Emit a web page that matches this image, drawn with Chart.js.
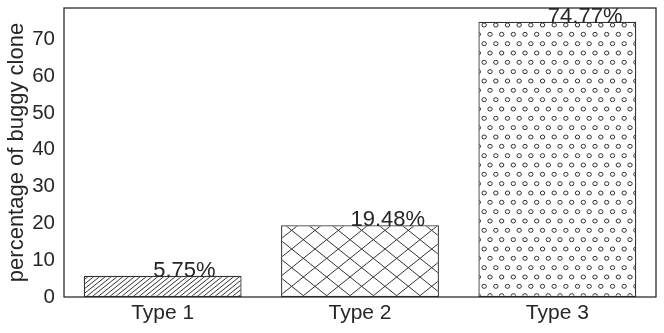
<!DOCTYPE html>
<html>
<head>
<meta charset="utf-8">
<script src="https://cdn.jsdelivr.net/npm/chart.js@4.4.1/dist/chart.umd.min.js"></script>
<style>
  html, body { margin: 0; padding: 0; background: #fff; }
  #wrap { width: 664px; height: 333px; }
</style>
</head>
<body>
<div id="wrap"><canvas id="main-chart" width="664" height="333"></canvas></div>
<script>
var categories = ["Type 1", "Type 2", "Type 3"];
var buggyPct = [5.75, 19.48, 74.77];
var yTicks = [0, 10, 20, 30, 40, 50, 60, 70];
var hatches = ["////", "x", "oo"];

var ink = '#262626';
var edge = '#333333';
var fontFam = '"Liberation Sans", Arial, sans-serif';

// matplotlib-like hatch tile (unit cell stretched a bit vertically like the source image)
function makeHatch(kind) {
  var W = 140, H = 112;
  var c = document.createElement('canvas');
  c.width = W; c.height = H;
  var g = c.getContext('2d');
  g.fillStyle = '#fff';
  g.fillRect(0, 0, W, H);
  g.strokeStyle = edge;
  g.lineWidth = 1;
  function lines(n, dir) {
    for (var k = -n; k <= n; k++) {
      var x = k * W / n;
      g.beginPath();
      if (dir > 0) { g.moveTo(x, H); g.lineTo(x + W, 0); }
      else { g.moveTo(x, 0); g.lineTo(x + W, H); }
      g.stroke();
    }
  }
  if (kind === '////') lines(24, 1);
  if (kind === 'x') { lines(6, 1); lines(6, -1); }
  if (kind === 'oo') {
    var n = 12, off = 1 / n;
    for (var i = 0; i <= n; i++) {
      var cols = [];
      if (i % 2 === 0) { for (var j = 0; j <= n; j++) cols.push(j * off); }
      else { for (var j = 0; j < n; j++) cols.push(off / 2 + j * off); }
      cols.forEach(function (u) {
        g.beginPath();
        g.ellipse(u * W, H - i * off * H, 2.2, 2.0, 0, 0, Math.PI * 2);
        g.stroke();
      });
    }
  }
  var p = g.createPattern(c, 'repeat');
  if (p.setTransform) p.setTransform(new DOMMatrix().translate(0, 333));
  return p;
}

var framePlugin = {
  id: 'frame',
  afterDraw: function (chart) {
    var a = chart.chartArea, ctx = chart.ctx;
    ctx.save();
    ctx.strokeStyle = ink;
    ctx.lineWidth = 1.25;
    ctx.strokeRect(a.left, a.top, a.right - a.left, a.bottom - a.top);
    ctx.restore();
  }
};

var valueLabels = {
  id: 'valueLabels',
  afterDatasetsDraw: function (chart) {
    var ctx = chart.ctx;
    var meta = chart.getDatasetMeta(0);
    ctx.save();
    ctx.fillStyle = ink;
    ctx.font = '22px ' + fontFam;
    ctx.textAlign = 'left';
    ctx.textBaseline = 'alphabetic';
    meta.data.forEach(function (bar, i) {
      ctx.fillText(buggyPct[i].toFixed(2) + '%', bar.x - bar.width * 0.06, bar.y + 1);
    });
    ctx.restore();
  }
};

new Chart(document.getElementById('main-chart'), {
  type: 'bar',
  data: {
    labels: categories,
    datasets: [{
      data: buggyPct,
      backgroundColor: hatches.map(makeHatch),
      borderColor: edge,
      borderWidth: 1.3,
      borderSkipped: false,
      categoryPercentage: 0.8,
      barPercentage: 1.0
    }]
  },
  options: {
    responsive: false,
    animation: false,
    layout: { padding: { top: 8, right: 8, left: 0, bottom: 0 } },
    plugins: { legend: { display: false }, tooltip: { enabled: false } },
    scales: {
      x: {
        grid: { display: false, drawTicks: false },
        border: { display: false },
        ticks: { color: ink, padding: 4, font: { family: fontFam, size: 21 } },
        afterFit: function (s) { s.height = 36; s.paddingLeft = 0; s.paddingRight = 0; }
      },
      y: {
        min: 0,
        max: Math.max.apply(null, buggyPct) * 1.05,
        grid: { display: false, drawTicks: false },
        border: { display: false },
        afterBuildTicks: function (s) { s.ticks = yTicks.map(function (v) { return { value: v }; }); },
        ticks: { color: ink, padding: 9, font: { family: fontFam, size: 20.5 } },
        title: {
          display: true,
          text: 'percentage of buggy clone',
          color: ink,
          padding: { top: 4, bottom: 0 },
          font: { family: fontFam, size: 22 }
        },
        afterFit: function (s) { s.width = 64; s.paddingTop = 0; s.paddingBottom = 0; }
      }
    }
  },
  plugins: [framePlugin, valueLabels]
});
</script>
</body>
</html>
